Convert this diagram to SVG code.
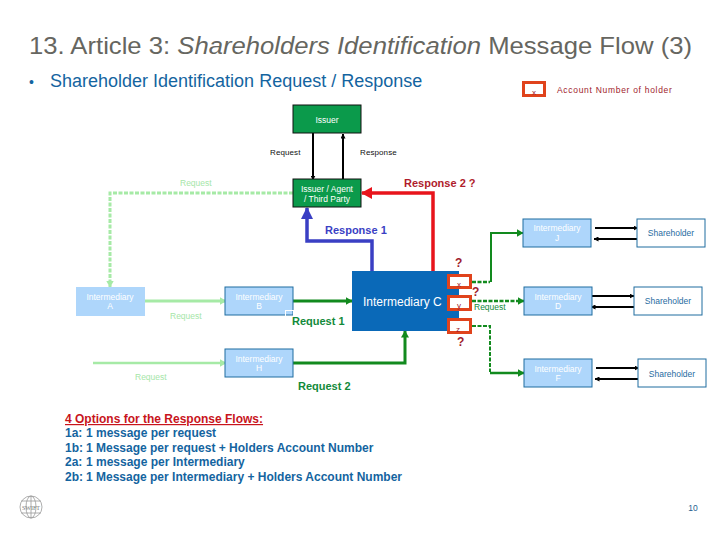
<svg xmlns="http://www.w3.org/2000/svg" width="720" height="540" viewBox="0 0 720 540">
<style>
text{font-family:"Liberation Sans",Arial,sans-serif}
.n{font-size:8.5px;fill:#fff;text-anchor:middle}
.lb{fill:#aed6fb;stroke:#1f6c9f;stroke-width:1}
.sh{fill:#fff;stroke:#1f6c9f;stroke-width:1}
.gn{fill:#0b9a4b;stroke:#111;stroke-width:1}
.s{font-size:8.5px;fill:#1f6c9f;text-anchor:middle}
.k{font-size:8px;fill:#111;letter-spacing:.1px}
.lg{font-size:8.5px;fill:#a6e6a8}
.q{font-size:12px;font-weight:bold;fill:#a01c2c}
.o{font-size:12px;font-weight:bold;fill:#1464a0}
.p{fill:#fff;stroke:#e0431c;stroke-width:3}
.pt{font-size:8px;fill:#a01c2c;text-anchor:middle}
.c{fill:none}
</style>
<defs>
<marker id="ak" markerUnits="userSpaceOnUse" markerWidth="5" markerHeight="5" refX="4.5" refY="2.5" orient="auto"><path d="M0 0L5 2.5L0 5Z" fill="#000"/></marker>
<marker id="alg" markerUnits="userSpaceOnUse" markerWidth="7" markerHeight="8" refX="6.5" refY="4" orient="auto"><path d="M0 0L7 4L0 8Z" fill="#a6eaa6"/></marker>
<marker id="ag" markerUnits="userSpaceOnUse" markerWidth="7" markerHeight="8" refX="6.5" refY="4" orient="auto"><path d="M0 0L7 4L0 8Z" fill="#128a1e"/></marker>
<marker id="ab" markerUnits="userSpaceOnUse" markerWidth="12" markerHeight="12" refX="11" refY="6" orient="auto"><path d="M0 0L12 6L0 12Z" fill="#3a3fc4"/></marker>
<marker id="ar" markerUnits="userSpaceOnUse" markerWidth="11" markerHeight="12" refX="10" refY="6" orient="auto"><path d="M0 0L11 6L0 12Z" fill="#e8141c"/></marker>
</defs>
<rect width="720" height="540" fill="#fff"/>
<text x="29" y="54" font-size="24.5" fill="#666660" textLength="663" lengthAdjust="spacingAndGlyphs">13. Article 3: <tspan font-style="italic">Shareholders Identification</tspan> Message Flow (3)</text>
<text x="29" y="87" font-size="14" fill="#1464a0">•</text>
<text x="50" y="87" font-size="18" fill="#1464a0">Shareholder Identification Request / Response</text>
<text x="557" y="93" font-size="8.5" fill="#a01c2c" letter-spacing=".7">Account Number of holder</text>
<g id="connectors" class="c">
<path d="M313 133V180" stroke="#000" stroke-width="2" marker-end="url(#ak)"/>
<path d="M343 180V134" stroke="#000" stroke-width="2" marker-end="url(#ak)"/>
<path d="M293 193H110V287" stroke="#a6eaa6" stroke-width="3" stroke-dasharray="4 1.5" marker-end="url(#alg)"/>
<path d="M145 301H226" stroke="#a6eaa6" stroke-width="3" marker-end="url(#alg)"/>
<path d="M93 363H226" stroke="#a6eaa6" stroke-width="2.5" marker-end="url(#alg)"/>
<path d="M293 301H352" stroke="#128a1e" stroke-width="3" marker-end="url(#ag)"/>
<path d="M293 363H405V331" stroke="#128a1e" stroke-width="3" marker-end="url(#ag)"/>
<path d="M372 271V241H307V208" stroke="#3a3fc4" stroke-width="3.5" marker-end="url(#ab)"/>
<path d="M433 271V193H362" stroke="#e8141c" stroke-width="3.5" marker-end="url(#ar)"/>
<path d="M472 282H490" stroke="#128a1e" stroke-width="2.5" stroke-dasharray="4 1.5"/>
<path d="M491 282V233H523" stroke="#128a1e" stroke-width="2" marker-end="url(#ag)"/>
<path d="M472 301H524" stroke="#128a1e" stroke-width="2.5" stroke-dasharray="4 1.5" marker-end="url(#ag)"/>
<path d="M472 326H490V372" stroke="#128a1e" stroke-width="2" stroke-dasharray="4 1.5"/>
<path d="M490 373H524" stroke="#128a1e" stroke-width="2.5" marker-end="url(#ag)"/>
<path d="M595 228H638" stroke="#000" stroke-width="2" marker-end="url(#ak)"/>
<path d="M637 239H594" stroke="#000" stroke-width="2" marker-end="url(#ak)"/>
<path d="M592 296H634" stroke="#000" stroke-width="2" marker-end="url(#ak)"/>
<path d="M634 307H591" stroke="#000" stroke-width="2" marker-end="url(#ak)"/>
<path d="M596 368H639" stroke="#000" stroke-width="2" marker-end="url(#ak)"/>
<path d="M638 379H595" stroke="#000" stroke-width="2" marker-end="url(#ak)"/>
</g>
<g id="legend-x"><rect class="p" x="523.500" y="82.500" width="21" height="13"/><text class="pt" x="534" y="95">x</text></g>
<g id="issuer"><rect class="gn" x="293" y="105" width="68" height="28"/><text class="n" x="327" y="123">Issuer</text></g>
<g id="agent"><rect class="gn" x="293" y="179" width="68" height="28"/><text class="n" x="327" y="192">Issuer / Agent</text><text class="n" x="327" y="202">/ Third Party</text></g>
<g id="int-a"><rect x="76" y="287" width="69" height="29" fill="#aed6fb"/><text class="n" x="110" y="300">Intermediary</text><text class="n" x="110" y="309">A</text></g>
<g id="int-b"><rect class="lb" x="225" y="287" width="68" height="28"/><text class="n" x="259" y="300">Intermediary</text><text class="n" x="259" y="309">B</text></g>
<rect x="285.500" y="310.500" width="8" height="6" fill="none" stroke="#fff"/>
<g id="int-h"><rect class="lb" x="225" y="349" width="68" height="28"/><text class="n" x="259" y="362">Intermediary</text><text class="n" x="259" y="371">H</text></g>
<g id="int-c"><rect x="352" y="271" width="107" height="60" fill="#0a69b8"/><text x="363" y="306" font-size="12" fill="#fff">Intermediary C</text></g>
<g id="port-x"><rect class="p" x="448.500" y="275.500" width="22" height="12"/><text class="pt" x="459" y="287">x</text></g>
<g id="port-y"><rect class="p" x="448.500" y="296.500" width="22" height="13"/><text class="pt" x="459" y="308">y</text></g>
<g id="port-z"><rect class="p" x="448.500" y="319.500" width="22" height="13"/><text class="pt" x="458" y="332">z</text></g>
<g id="int-j"><rect class="lb" x="523" y="219" width="68" height="28"/><text class="n" x="557" y="231">Intermediary</text><text class="n" x="557" y="241">J</text></g>
<g id="int-d"><rect class="lb" x="524" y="287" width="68" height="28"/><text class="n" x="558" y="300">Intermediary</text><text class="n" x="558" y="309">D</text></g>
<g id="int-f"><rect class="lb" x="524" y="359" width="68" height="28"/><text class="n" x="558" y="372">Intermediary</text><text class="n" x="558" y="381">F</text></g>
<g id="sh-1"><rect class="sh" x="637" y="219" width="68" height="28"/><text class="s" x="671" y="236">Shareholder</text></g>
<g id="sh-2"><rect class="sh" x="634" y="287" width="68" height="28"/><text class="s" x="668" y="304">Shareholder</text></g>
<g id="sh-3"><rect class="sh" x="638" y="359" width="68" height="28"/><text class="s" x="672" y="377">Shareholder</text></g>
<text class="k" x="270" y="155">Request</text>
<text class="k" x="360" y="155">Response</text>
<text class="lg" x="180" y="186">Request</text>
<text class="lg" x="170" y="319">Request</text>
<text class="lg" x="135" y="380">Request</text>
<text x="404" y="187" font-size="11" font-weight="bold" fill="#b01c2c">Response 2 ?</text>
<text x="325" y="234" font-size="11" font-weight="bold" fill="#3a3fc4">Response 1</text>
<text x="292" y="325" font-size="11" font-weight="bold" fill="#128a3a">Request 1</text>
<text x="298" y="390" font-size="11" font-weight="bold" fill="#128a3a">Request 2</text>
<text x="474" y="310" font-size="8.5" fill="#128a3a">Request</text>
<text class="q" x="455" y="267">?</text>
<text class="q" x="472" y="296">?</text>
<text class="q" x="457" y="346">?</text>
<g id="options">
<text x="65" y="423" font-size="12" font-weight="bold" fill="#c8141c" text-decoration="underline">4 Options for the Response Flows:</text>
<text class="o" x="65" y="437">1a:<tspan x="86">1 message per request</tspan></text>
<text class="o" x="65" y="452">1b:<tspan x="86">1 Message per request + Holders Account Number</tspan></text>
<text class="o" x="65" y="466">2a:<tspan x="86">1 message per Intermediary</tspan></text>
<text class="o" x="65" y="481">2b:<tspan x="86">1 Message per Intermediary + Holders Account Number</tspan></text>
</g>
<g id="logo" fill="none" stroke="#999" stroke-width="0.8"><circle cx="31" cy="507" r="11"/><ellipse cx="31" cy="507" rx="5" ry="11"/><path d="M31 496V518M21 501H41M21 513H41"/></g>
<text x="31" y="510" font-size="6" style="font-family:'Liberation Serif',serif" text-anchor="middle" fill="#777">SWIFT</text>
<text x="693" y="511" font-size="8.5" fill="#1f5f8f" text-anchor="middle">10</text>
</svg>
